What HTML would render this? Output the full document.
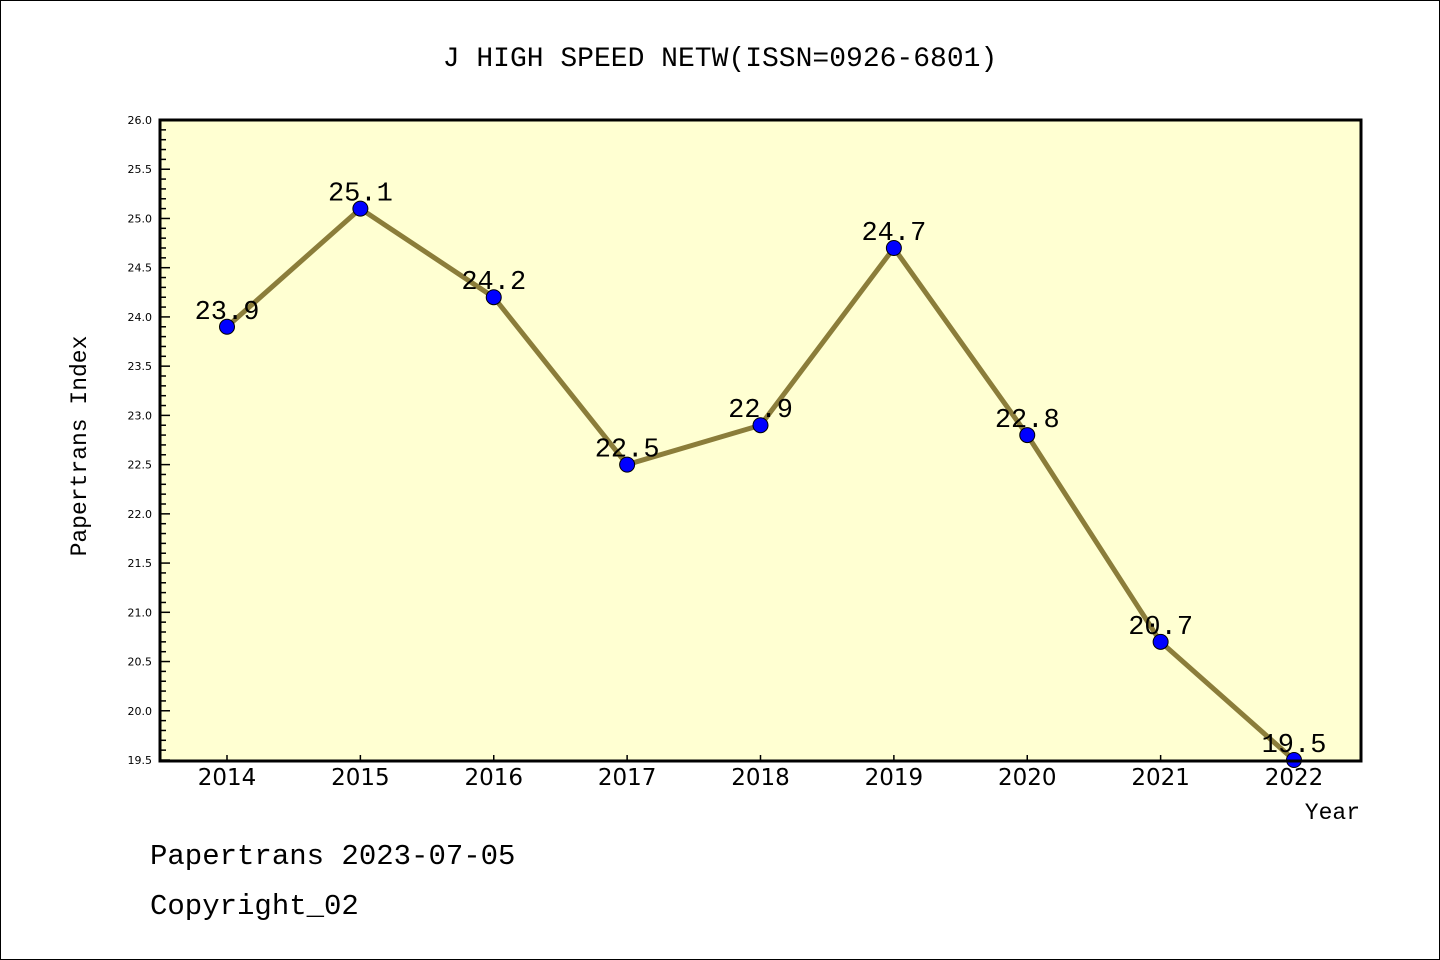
<!DOCTYPE html>
<html><head><meta charset="utf-8"><style>
body{margin:0;background:#fff}
svg{display:block;font-family:"Liberation Mono","DejaVu Sans Mono",monospace}
</style></head><body>
<svg width="1440" height="960">
<rect x="0.5" y="0.5" width="1439" height="959" fill="#fff" stroke="#000"/>
<text x="720" y="66" text-anchor="middle" font-size="28">J HIGH SPEED NETW(ISSN=0926-6801)</text>
<rect x="160" y="120" width="1201" height="641" fill="#ffffd2"/>
<g id="axes"></g>
<g id="series"></g>
<rect x="160" y="120" width="1201" height="641" fill="none" stroke="#000" stroke-width="3"/>
<text x="86" y="446" transform="rotate(-90 86 446)" text-anchor="middle" font-size="23">Papertrans Index</text>
<text x="1360" y="819" text-anchor="end" font-size="23">Year</text>
<text x="150" y="864" font-size="29">Papertrans 2023-07-05</text>
<text x="150" y="914" font-size="29">Copyright_02</text>
</svg>
<script>
const years = [2014,2015,2016,2017,2018,2019,2020,2021,2022];
const values = [23.9,25.1,24.2,22.5,22.9,24.7,22.8,20.7,19.5];
const yTicks = ["19.5","20.0","20.5","21.0","21.5","22.0","22.5","23.0","23.5","24.0","24.5","25.0","25.5","26.0"];
const yMin=19.5,yMax=26.0;
const NS="http://www.w3.org/2000/svg";
function xs(i){return 227+i*(1294-227)/(years.length-1);}
function ys(v){return 120+(yMax-v)/(yMax-yMin)*640;}
function mk(t,a,p){const e=document.createElementNS(NS,t);for(const k in a)e.setAttribute(k,a[k]);p.appendChild(e);return e;}
const ax=document.getElementById('axes'),se=document.getElementById('series');
for(let k=0;k<=65;k++){const v=yMin+k*0.1;const y=ys(v);const major=k%5===0;
 const l=mk('line',{x1:160,x2:160+(major?10:6),y1:y,y2:y,stroke:'#000','stroke-width':1.5},ax);
 
 }
yTicks.forEach(t=>{const e=mk('text',{x:152,y:ys(parseFloat(t))+4,'text-anchor':'end','font-size':11,'font-family':'DejaVu Sans, sans-serif'},ax);e.textContent=t;
 
 });
years.forEach((yr,i)=>{const x=xs(i);
 const l=mk('line',{x1:x,x2:x,y1:761,y2:755,stroke:'#000','stroke-width':1.5},ax);
 
 
 const t=mk('text',{x:x,y:785,'text-anchor':'middle','font-size':23,'font-family':'DejaVu Sans, sans-serif'},ax);t.textContent=yr;
 
 });
const pl=mk('polyline',{points:values.map((v,i)=>xs(i)+','+ys(v)).join(' '),fill:'none',stroke:'#8b7d3a','stroke-width':5},se);


values.forEach((v,i)=>{
 const c=mk('circle',{cx:xs(i),cy:ys(v),r:7.5,fill:'#0000ff',stroke:'#000','stroke-width':1},se);
 
 
 const t=mk('text',{x:xs(i),y:ys(v)-8,'text-anchor':'middle','font-size':27},se);t.textContent=v.toFixed(1);
 
 });
</script>
</body></html>
